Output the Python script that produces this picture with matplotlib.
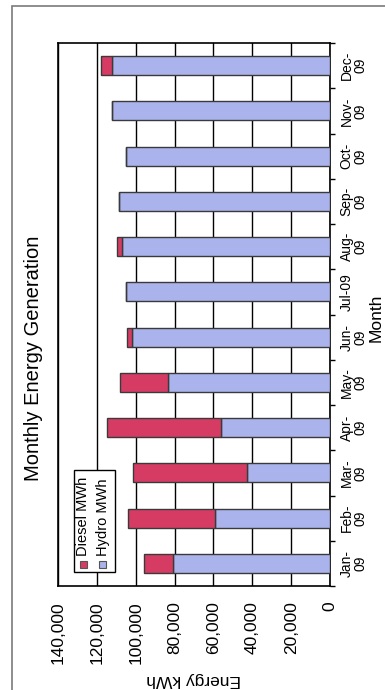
import matplotlib
matplotlib.use("Agg")
import matplotlib.pyplot as plt
import numpy as np
from matplotlib.patches import Rectangle
from matplotlib.ticker import FuncFormatter

# --- data (kWh) ---
months = ["Jan-\n09", "Feb-\n09", "Mar-\n09", "Apr-\n09", "May-\n09", "Jun-\n09",
          "Jul-09", "Aug-\n09", "Sep-\n09", "Oct-\n09", "Nov-\n09", "Dec-\n09"]
hydro = [81000, 59200, 42600, 56300, 83200, 101700,
         105100, 107200, 108600, 105100, 112400, 112000]
diesel = [14700, 44900, 58600, 58600, 24900, 2900,
          0, 2600, 0, 0, 0, 6000]
value_ticks = [0, 20000, 40000, 60000, 80000, 100000, 120000, 140000]
series_names = ["Diesel MWh", "Hydro MWh"]

W, H = 385, 690
FONT = "Liberation Sans"
diesel_color = "#d63c63"
hydro_color = "#aab3ec"


def fx(x):
    return x / W


def fy(y):
    return 1 - y / H


fig = plt.figure(figsize=(W / 100, H / 100), dpi=100)
fig.patch.set_facecolor("white")

# outer chart border (only top and left are inside the scan)
fig.add_artist(Rectangle((fx(12), fy(700)), fx(400), 694 / H, transform=fig.transFigure,
                         fill=False, edgecolor="#7a7a7a", linewidth=1.2))

# plot area, chart is turned a quarter turn so the bars run horizontally
ax = fig.add_axes([fx(58), fy(586), fx(330) - fx(58), fy(43) - fy(586)])
pos = np.arange(len(months))
ax.barh(pos, hydro, height=0.42, color=hydro_color, edgecolor="#3a3a3a",
        linewidth=1, zorder=3)
ax.barh(pos, diesel, left=hydro, height=0.42, color=diesel_color,
        edgecolor="#3a3a3a", linewidth=1, zorder=3)

ax.set_xlim(value_ticks[-1], value_ticks[0])
ax.set_ylim(-0.5, len(months) - 0.5)
ax.set_xticks(value_ticks)
ax.xaxis.set_major_formatter(FuncFormatter(lambda v, p: f"{int(v):,}"))
ax.grid(axis="x", color="black", linewidth=1, zorder=1)
for s in ax.spines.values():
    s.set_linewidth(1.2)

ax.tick_params(axis="x", length=0, pad=11, labelsize=12.5)
for lbl in ax.get_xticklabels():
    lbl.set_rotation(90)
    lbl.set_fontfamily(FONT)
    lbl.set_va("top")
    lbl.set_ha("center")

ax.yaxis.tick_right()
ax.set_yticks(pos)
ax.set_yticklabels(months)
ax.set_yticks(np.arange(-0.5, len(months), 1), minor=True)
ax.tick_params(axis="y", which="major", length=0, pad=7, labelsize=10)
ax.tick_params(axis="y", which="minor", length=3.5, width=1, direction="out")
for lbl in ax.get_yticklabels():
    lbl.set_rotation(90)
    lbl.set_fontfamily(FONT)
    lbl.set_ha("left")
    lbl.set_va("center")
    lbl.set_multialignment("center")
    lbl.set_linespacing(1.0)

# titles, rotated with the chart
fig.text(fx(34), fy(358), "Monthly Energy Generation", rotation=90, fontsize=14.5,
         fontfamily=FONT, ha="center", va="center")
fig.text(fx(376), fy(318), "Month", rotation=90, fontsize=12.5,
         fontfamily=FONT, ha="center", va="center")
fig.text(fx(194), fy(680), "Energy kWh", rotation=180, fontsize=12.5,
         fontfamily=FONT, ha="center", va="center")

# legend drawn by hand so its text can turn with the chart
fig.add_artist(Rectangle((fx(74), fy(572)), fx(41), 102 / H, transform=fig.transFigure,
                         facecolor="white", edgecolor="black", linewidth=1, zorder=5))
for name, col, x in zip(series_names, [diesel_color, hydro_color], [83, 103]):
    fig.add_artist(Rectangle((fx(x - 3.5), fy(568)), fx(7), 7 / H,
                             transform=fig.transFigure, facecolor=col,
                             edgecolor="#555555", linewidth=0.8, zorder=6))
    fig.text(fx(x), fy(556), name, rotation=90, fontsize=10.5, fontfamily=FONT,
             ha="center", va="bottom", zorder=6)

fig.savefig("out.png", dpi=100)
